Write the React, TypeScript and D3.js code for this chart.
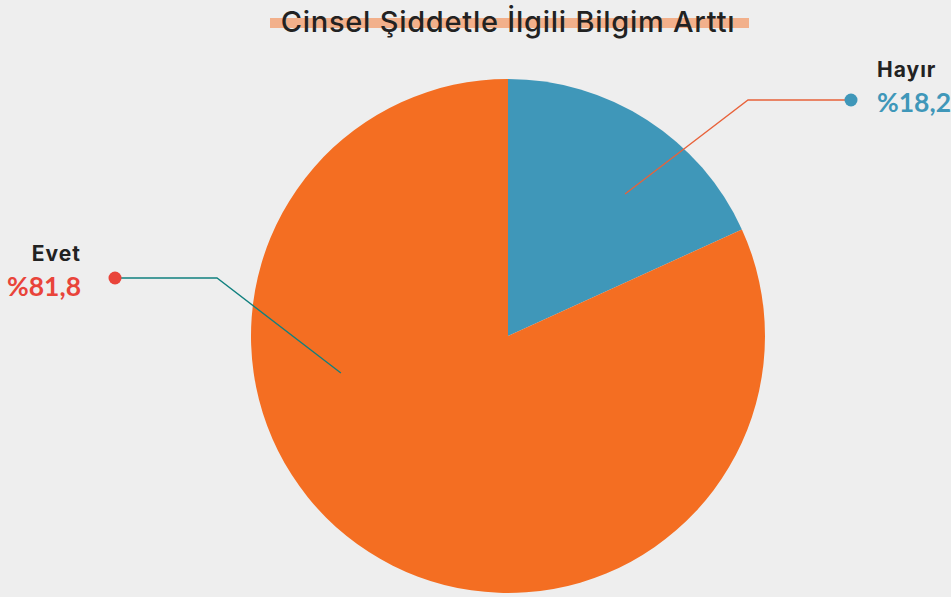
import React from "react";
import * as d3 from "d3";

const categories = ["Hayır", "Evet"];
const values = [18.2, 81.8];
const valueLabels = ["%18,2", "%81,8"];
const title = "Cinsel Şiddetle İlgili Bilgim Arttı";

const W = 951;
const H = 597;
const cx = 508;
const cy = 336;
const R = 257;
const sliceColors = ["#3f97b9", "#f46e22"];
const textColors = ["#3f97b9", "#e9443a"];
const lineColors = ["#e8623a", "#11807f"];
// label layout: anchor inside slice (angle deg, radius fraction), elbow and dot positions relative to center
const labelLayout = [
  { angle: 39.5, frac: 0.716, elbowX: 240, dotX: 343, y: -236, side: "right", dy: 0 },
  { angle: 257.5, frac: 0.666, elbowX: -291, dotX: -393, y: -58, side: "left", dy: 6 },
];

export default function App() {
  const pie = d3.pie<number>().sort(null).value((d) => d);
  const arcs = pie(values);
  const arc = d3.arc<d3.PieArcDatum<number>>().innerRadius(0).outerRadius(R);
  const font = "Inter, 'Noto Sans', sans-serif";
  const valueFont = "Lato, 'Noto Sans', sans-serif";

  return (
    <svg width={W} height={H} style={{ position: "absolute", left: 0, top: 0, background: "#eeeeee" }}>
      <rect x={0} y={0} width={W} height={H} fill="#eeeeee" />
      <rect x={270} y={18} width={479} height={10} fill="#f2b08b" />
      <text
        x={508}
        y={32}
        textAnchor="middle"
        fontFamily={font}
        fontSize={29}
        letterSpacing={0.75}
        fill="#222"
        fontWeight={500}
      >
        {title}
      </text>
      <g transform={`translate(${cx},${cy})`}>
        {arcs.map((a, i) => (
          <path key={i} d={arc(a) || ""} fill={sliceColors[i]} />
        ))}
        {arcs.map((a, i) => {
          const L = labelLayout[i];
          const t = (L.angle * Math.PI) / 180;
          const ax = Math.sin(t) * R * L.frac;
          const ay = -Math.cos(t) * R * L.frac;
          const right = L.side === "right";
          const tx = right ? L.dotX + 26 : L.dotX - 34;
          return (
            <g key={"l" + i}>
              <polyline
                points={`${ax},${ay} ${L.elbowX},${L.y} ${L.dotX},${L.y}`}
                fill="none"
                stroke={lineColors[i]}
                strokeWidth={1.3}
              />
              <circle cx={L.dotX} cy={L.y} r={6.5} fill={textColors[i]} />
              <text
                x={tx}
                y={L.y + L.dy - 23}
                textAnchor={right ? "start" : "end"}
                fontFamily={font}
                fontWeight={700}
                fontSize={21}
                letterSpacing={1}
                fill="#222"
              >
                {categories[i]}
              </text>
              <text
                x={tx}
                y={L.y + L.dy + 12}
                textAnchor={right ? "start" : "end"}
                fontFamily={valueFont}
                fontWeight={700}
                fontSize={26.5}
                fill={textColors[i]}
              >
                {valueLabels[i]}
              </text>
            </g>
          );
        })}
      </g>
    </svg>
  );
}
